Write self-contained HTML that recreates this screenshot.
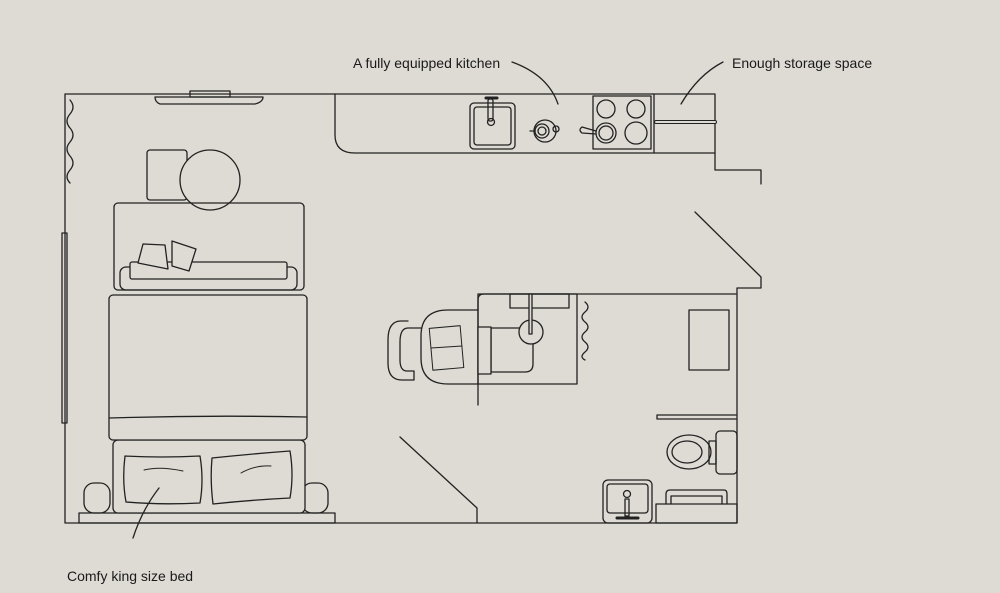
<!DOCTYPE html>
<html><head><meta charset="utf-8"><style>
html,body{margin:0;padding:0;background:#dedbd4;}
svg{display:block}
text{font-family:"Liberation Sans",sans-serif;font-size:14px;fill:#1a1a1a}
</style></head><body>
<svg width="1000" height="593" viewBox="0 0 1000 593" xmlns="http://www.w3.org/2000/svg">
<rect width="1000" height="593" fill="#dedbd4"/>
<g fill="none" stroke="#222" stroke-width="1.3" stroke-linejoin="round" stroke-linecap="round">
<path d="M335 94 H65 V523 H737 V288 H761 V277 L695 212"/>
<path d="M335 94 H715 V170 H761 V184"/>
<path d="M335 94 V135 Q335 153 355 153 H715"/>
<line x1="654" y1="94" x2="654" y2="153"/>
<rect x="470" y="103" width="45" height="46" rx="4"/>
<rect x="474" y="107" width="37" height="38" rx="3"/>
<rect x="488" y="99" width="5" height="22" rx="2"/>
<line x1="486" y1="98" x2="497" y2="98" stroke-width="3"/>
<circle cx="491" cy="122" r="3.5"/>
<circle cx="545" cy="131" r="11"/>
<circle cx="542" cy="131" r="7"/>
<circle cx="542" cy="131" r="4"/>
<line x1="530" y1="131" x2="535" y2="131"/>
<circle cx="556" cy="129" r="3"/>
<rect x="593" y="96" width="58" height="53"/>
<circle cx="606" cy="109" r="9"/><circle cx="636" cy="109" r="9"/>
<circle cx="606" cy="133" r="10"/><circle cx="606" cy="133" r="7"/><circle cx="636" cy="133" r="11"/>
<path d="M596 131 L582 127 Q578 130 582 133 L596 134"/>
<line x1="656" y1="122" x2="715" y2="122" stroke-width="4"/>
<line x1="656" y1="122" x2="715" y2="122" stroke="#dedbd4" stroke-width="2"/>
<rect x="190" y="91" width="40" height="6"/>
<path d="M155 97 H263 Q263 102 255 104 H160 Q155 102 155 97Z"/>
<path d="M70 100 q6 7 0 14 q-6 7 0 14 q6 7 0 14 q-6 7 0 14 q6 7 0 14 q-6 7 0 13"/>
<rect x="62" y="233" width="5" height="190"/>
<rect x="147" y="150" width="40" height="50" rx="3"/>
<circle cx="210" cy="180" r="30" fill="#dedbd4"/>
<rect x="114" y="203" width="190" height="87" rx="4"/>
<rect x="120" y="267" width="177" height="23" rx="6"/>
<rect x="130" y="262" width="157" height="17" rx="2" fill="#dedbd4"/>
<path d="M143 244 l22 1 l3 24 l-30 -6 z" fill="#dedbd4"/>
<path d="M172 241 l24 8 l-7 22 l-17 -5 z" fill="#dedbd4"/>
<rect x="84" y="483" width="26" height="30" rx="10"/>
<rect x="302" y="483" width="26" height="30" rx="10"/>
<rect x="79" y="513" width="256" height="10"/>
<rect x="113" y="440" width="192" height="73" rx="5" fill="#dedbd4"/>
<rect x="109" y="295" width="198" height="145" rx="4" fill="#dedbd4"/>
<path d="M109 418 Q208 415 307 417"/>
<path d="M125 456 Q160 458 200 456 Q204 480 200 503 Q160 505 126 502 Q122 480 125 456Z"/>
<path d="M212 458 Q250 454 290 451 Q294 475 290 498 Q250 500 213 504 Q210 480 212 458Z"/>
<path d="M144 470 Q160 466 183 471" stroke-width="1"/>
<path d="M241 473 Q255 465 271 466" stroke-width="1"/>
<path d="M400 437 L477 508 V523"/>
<path d="M478 405 V300 Q478 294 484 294 H736"/>
<rect x="478" y="294" width="99" height="90"/>
<rect x="510" y="294" width="59" height="14"/>
<path d="M491 328 H533 V364 Q533 372 525 372 H491 Z"/>
<rect x="478" y="327" width="13" height="47" fill="#dedbd4"/>
<circle cx="531" cy="332" r="12" fill="#dedbd4"/>
<rect x="529" y="294" width="3" height="40" fill="#dedbd4"/>
<path d="M478 310 H448 Q421 310 421 336 V358 Q421 384 448 384 H478"/>
<path d="M408 321 H401 Q388 321 388 340 V363 Q388 380 402 380 H414 V371 H407 Q400 371 400 360 V342 Q400 328 408 328 H421"/>
<rect x="431" y="327" width="31" height="42" transform="rotate(-5 446 348)" stroke-width="1"/>
<line x1="431" y1="348" x2="462" y2="346" stroke-width="1"/>
<path d="M585 302 q6 5 0 10 q-6 5 0 10 q6 5 0 10 q-6 5 0 10 q6 5 0 10 q-6 5 0 8"/>
<rect x="689" y="310" width="40" height="60"/>
<path d="M736 415 H657 V419 H736"/>
<rect x="716" y="431" width="21" height="43" rx="4"/>
<rect x="709" y="441" width="7" height="23"/>
<ellipse cx="689" cy="452" rx="22" ry="17"/>
<ellipse cx="687" cy="452" rx="15" ry="11"/>
<rect x="603" y="480" width="49" height="43" rx="5"/>
<rect x="607" y="484" width="41" height="29" rx="3"/>
<circle cx="627" cy="494" r="3.5"/>
<rect x="625" y="499" width="4" height="17"/>
<line x1="617" y1="518" x2="638" y2="518" stroke-width="3"/>
<rect x="656" y="504" width="81" height="19"/>
<path d="M666 504 V494 Q666 490 670 490 H724 Q727 490 727 494 V504 M671 504 V496 H722 V504"/>
<path d="M512 62 Q548 75 558 104"/>
<path d="M723 62 Q698 75 681 104"/>
<path d="M159 488 Q142 510 133 538"/>
</g>
<text x="353" y="68">A fully equipped kitchen</text>
<text x="732" y="68">Enough storage space</text>
<text x="67" y="581">Comfy king size bed</text>
</svg>
</body></html>
